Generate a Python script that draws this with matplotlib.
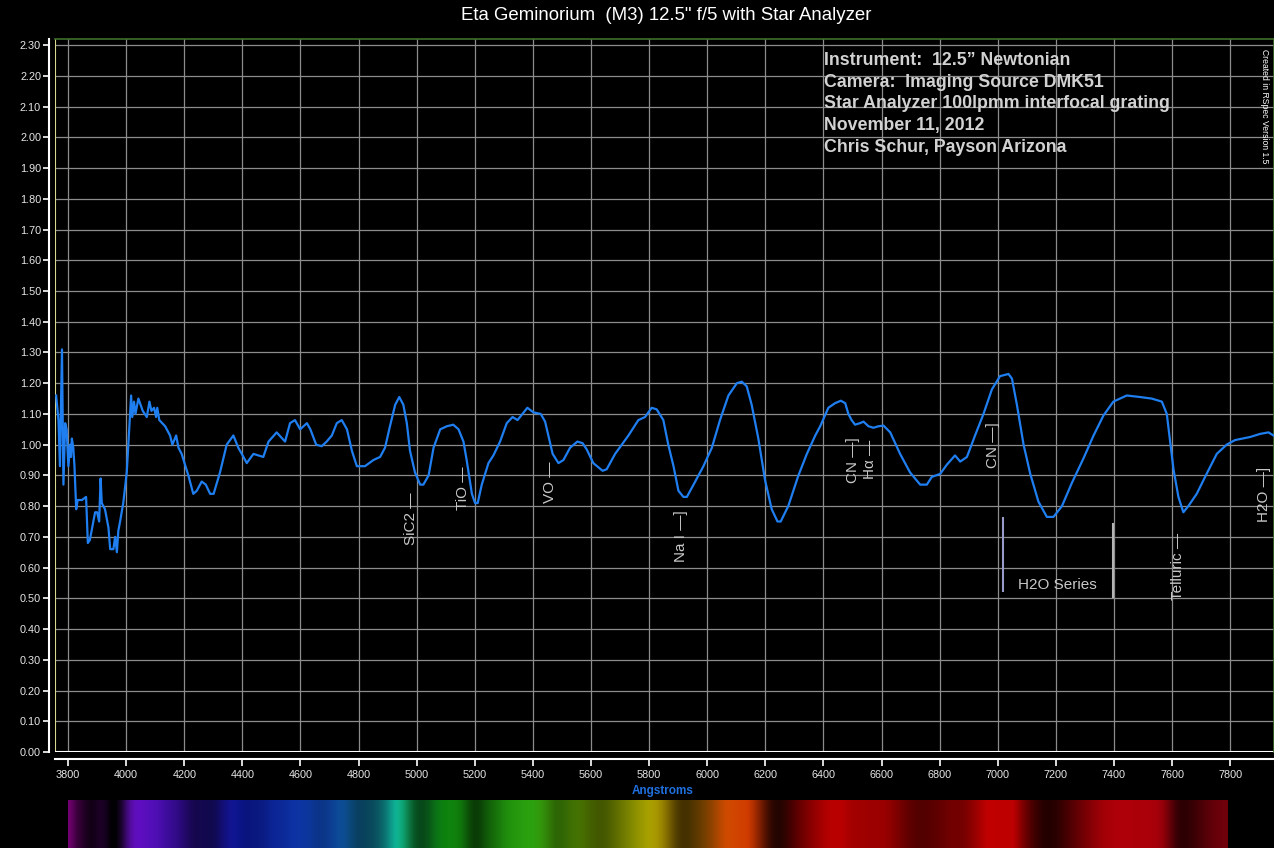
import numpy as np
import matplotlib
matplotlib.use('Agg')
import matplotlib.pyplot as plt
from matplotlib.colors import to_rgb

# ---------------- data ----------------
wavelength = [3759, 3767, 3772, 3779, 3784, 3790, 3795, 3801, 3807, 3810, 3813, 3818, 3822, 3828,
              3833, 3848, 3862, 3868, 3875, 3893, 3900, 3907, 3912, 3916, 3927, 3939, 3945, 3956,
              3962, 3968, 3973, 3979, 3990, 4002, 4008, 4013, 4017, 4021, 4027, 4032, 4042, 4057,
              4071, 4080, 4087, 4096, 4103, 4107, 4114, 4134, 4151, 4159, 4172, 4180, 4191, 4214,
              4231, 4243, 4260, 4274, 4289, 4301, 4323, 4346, 4369, 4386, 4398, 4415, 4438, 4455,
              4472, 4490, 4518, 4547, 4564, 4581, 4599, 4622, 4634, 4654, 4673, 4690, 4708, 4725,
              4742, 4760, 4777, 4794, 4822, 4851, 4874, 4891, 4908, 4926, 4940, 4954, 4966, 4977,
              4994, 5012, 5023, 5041, 5058, 5081, 5104, 5126, 5144, 5161, 5172, 5190, 5201, 5210,
              5224, 5247, 5264, 5287, 5310, 5330, 5347, 5364, 5381, 5402, 5427, 5442, 5453, 5468,
              5488, 5505, 5528, 5553, 5571, 5585, 5608, 5640, 5654, 5683, 5706, 5729, 5763, 5786,
              5809, 5826, 5849, 5866, 5884, 5901, 5918, 5930, 5953, 5987, 6016, 6044, 6073, 6102,
              6119, 6136, 6153, 6176, 6199, 6222, 6242, 6253, 6279, 6314, 6343, 6372, 6389, 6417,
              6440, 6460, 6475, 6486, 6497, 6509, 6526, 6538, 6555, 6572, 6590, 6607, 6630, 6664,
              6698, 6733, 6756, 6773, 6802, 6825, 6853, 6871, 6894, 6922, 6951, 6980, 7008, 7037,
              7049, 7066, 7089, 7112, 7140, 7169, 7192, 7221, 7255, 7295, 7330, 7364, 7398, 7444,
              7490, 7530, 7565, 7582, 7593, 7605, 7622, 7639, 7656, 7685, 7719, 7754, 7788, 7817,
              7869, 7903, 7932, 7949]
flux = [1.16, 1.08, 0.93, 1.31, 0.87, 1.07, 1.05, 0.93, 1.00, 0.96, 1.02, 0.99, 0.93, 0.79,
        0.82, 0.82, 0.83, 0.68, 0.69, 0.78, 0.78, 0.75, 0.89, 0.81, 0.79, 0.73, 0.66, 0.66,
        0.70, 0.65, 0.72, 0.75, 0.81, 0.91, 1.01, 1.09, 1.16, 1.09, 1.14, 1.10, 1.15, 1.11,
        1.09, 1.14, 1.11, 1.12, 1.09, 1.12, 1.08, 1.06, 1.03, 1.00, 1.03, 0.99, 0.97, 0.90,
        0.84, 0.85, 0.88, 0.87, 0.84, 0.84, 0.91, 1.00, 1.03, 0.99, 0.97, 0.94, 0.97, 0.965,
        0.96, 1.01, 1.04, 1.01, 1.07, 1.08, 1.05, 1.07, 1.05, 1.00, 0.995, 1.01, 1.03, 1.07,
        1.08, 1.05, 0.98, 0.93, 0.93, 0.95, 0.96, 0.99, 1.06, 1.13, 1.155, 1.13, 1.07, 0.98,
        0.91, 0.87, 0.87, 0.90, 0.99, 1.05, 1.06, 1.065, 1.05, 1.01, 0.95, 0.84, 0.81, 0.81,
        0.87, 0.94, 0.965, 1.01, 1.07, 1.09, 1.08, 1.10, 1.12, 1.105, 1.10, 1.075, 1.03, 0.97,
        0.94, 0.95, 0.99, 1.01, 1.005, 0.985, 0.94, 0.915, 0.92, 0.97, 1.00, 1.03, 1.08, 1.09,
        1.12, 1.115, 1.08, 1.00, 0.93, 0.85, 0.83, 0.83, 0.87, 0.93, 0.99, 1.08, 1.16, 1.20,
        1.205, 1.19, 1.13, 1.02, 0.885, 0.79, 0.75, 0.75, 0.80, 0.90, 0.97, 1.03, 1.06, 1.12,
        1.135, 1.143, 1.135, 1.10, 1.08, 1.065, 1.07, 1.075, 1.06, 1.055, 1.06, 1.062, 1.04, 0.97,
        0.91, 0.87, 0.87, 0.895, 0.905, 0.935, 0.965, 0.945, 0.96, 1.03, 1.10, 1.18, 1.223, 1.23,
        1.215, 1.13, 1.00, 0.905, 0.815, 0.765, 0.765, 0.80, 0.875, 0.955, 1.03, 1.095, 1.14, 1.16,
        1.155, 1.15, 1.14, 1.10, 1.015, 0.92, 0.83, 0.78, 0.80, 0.84, 0.905, 0.97, 1.00, 1.015,
        1.025, 1.035, 1.04, 1.03]

x_ticks = list(range(3800, 8000, 200))
y_ticks = [round(0.1 * i, 2) for i in range(24)]

title = 'Eta Geminorium  (M3) 12.5" f/5 with Star Analyzer'
info_lines = ['Instrument:  12.5\u201d Newtonian',
              'Camera:  Imaging Source DMK51',
              'Star Analyzer 100lpmm interfocal grating',
              'November 11, 2012',
              'Chris Schur, Payson Arizona']
credit = 'Created in RSpec Version 1.5'

label_text = ['SiC2 \u2014', 'TiO \u2014', 'VO \u2014', 'Na I \u2014]', 'CN \u2014]',
              'H\u03b1 \u2014', 'CN \u2014]', 'Telluric \u2014', 'H2O \u2014]']
label_wl = [4982, 5160, 5458, 5911, 6501, 6559, 6983, 7619, 7918]
label_top = [0.843, 0.930, 0.944, 0.787, 1.025, 1.015, 1.074, 0.712, 0.927]

series_text = 'H2O Series'
series_wl = [7017, 7396]
series_lo = [0.52, 0.50]
series_hi = [0.765, 0.745]

# colour of the synthetic spectrum strip (hue by wavelength)
hue_wl = [3700, 3800, 3830, 4000, 4200, 4400, 4700, 4850, 4930, 5000, 5100, 5400, 5600,
          5800, 5950, 6050, 6200, 6300, 7000, 7800, 8000]
hue_col = ['#c000c0', '#c000c0', '#900090', '#7010d0', '#4010c0', '#1020d0', '#1050c0',
           '#1080a0', '#10c0a0', '#10a040', '#10a010', '#30b010', '#70a000', '#b8b000',
           '#c08000', '#d05000', '#d03000', '#c00000', '#c00000', '#a00010', '#a00010']

# ---------------- figure ----------------
plt.rcParams['font.family'] = ['Liberation Sans', 'DejaVu Sans']
W, H = 1274, 848
fig = plt.figure(figsize=(W / 100, H / 100), dpi=100, facecolor='black')

def fx(px):
    return px / W

def fy(py):
    return 1 - py / H

ax = fig.add_axes([fx(55), fy(752), fx(1274 - 55), (752 - 39) / H])
ax.set_facecolor('black')
ax.set_xlim(3755, 7951)
ax.set_ylim(0, 2.32)

ax.set_xticks(x_ticks)
ax.set_yticks(y_ticks)
ax.set_yticklabels([f'{v:.2f}' for v in y_ticks])
ax.grid(True, color='#8c8c8c', linewidth=0.9)
ax.set_axisbelow(True)

ax.tick_params(axis='y', colors='white', labelcolor='#e6e6e6', labelsize=7.8,
               length=4, width=1.2, pad=2)
ax.tick_params(axis='x', colors='white', labelcolor='#e6e6e6', labelsize=7.8,
               length=5, width=1.2, pad=3)

for s in ['left', 'bottom']:
    ax.spines[s].set_color('white')
    ax.spines[s].set_linewidth(1.5)
ax.spines['left'].set_position(('outward', 4))
ax.spines['bottom'].set_position(('outward', 5))
for s in ['top', 'right']:
    ax.spines[s].set_color('#3f6e2a')
    ax.spines[s].set_linewidth(1.2)

ax.axvline(3755, color='#d8d890', linewidth=1.5, zorder=1)
ax.axhline(0, color='white', linewidth=1.5, zorder=1)

ax.plot(wavelength, flux, color='#1f7ef0', linewidth=1.6, zorder=3)

for t, w, v in zip(label_text, label_wl, label_top):
    ax.text(w, v, t, rotation=90, ha='center', va='top', color='#c8c8c8',
            fontsize=11, zorder=4)

ax.vlines(series_wl[0], series_lo[0], series_hi[0], color='#9a9ac8', linewidth=1.5)
ax.vlines(series_wl[1], series_lo[1], series_hi[1], color='#b4b4b4', linewidth=1.5)
ax.text(sum(series_wl) / 2, 0.543, series_text, ha='center', va='center',
        color='#c8c8c8', fontsize=11)

# title and texts
fig.text(fx(666), fy(16), title, ha='center', va='center', color='white', fontsize=13.4)
for i, line in enumerate(info_lines):
    fig.text(fx(824), fy(65 + 21.7 * i), line, ha='left', va='baseline',
             color='#d2d2d2', fontsize=12.8, fontweight='bold')
fig.text(fx(1265), fy(106), credit, rotation=-90, ha='center', va='center',
         color='white', fontsize=6.2)
fig.text(fx(663), fy(791), 'Angstroms', ha='center', va='center',
         color='#2070e0', fontsize=8.5, fontweight='bold')

# spectrum strip derived from the flux
sax = fig.add_axes([fx(68), 0, fx(1228 - 68), 48 / H])
sax.set_axis_off()
grid_wl = np.linspace(3800, 7800, 1200)
f_i = np.interp(grid_wl, wavelength, flux)
kern = np.exp(-0.5 * (np.arange(-15, 16) / 5.0) ** 2)
kern /= kern.sum()
f_s = np.convolve(np.pad(f_i, 15, mode='edge'), kern, mode='valid')
bright = np.clip((f_s - 0.70) / 0.45, 0, 1) ** 0.9
hc = np.array([to_rgb(c) for c in hue_col])
rgb = np.stack([np.interp(grid_wl, hue_wl, hc[:, k]) for k in range(3)], axis=1)
rgb = rgb * bright[:, None]
img = np.repeat(rgb[None, :, :], 10, axis=0)
sax.imshow(img, aspect='auto', extent=(3800, 7800, 0, 1), interpolation='bilinear')

fig.savefig('out.png', dpi=100, facecolor='black')
